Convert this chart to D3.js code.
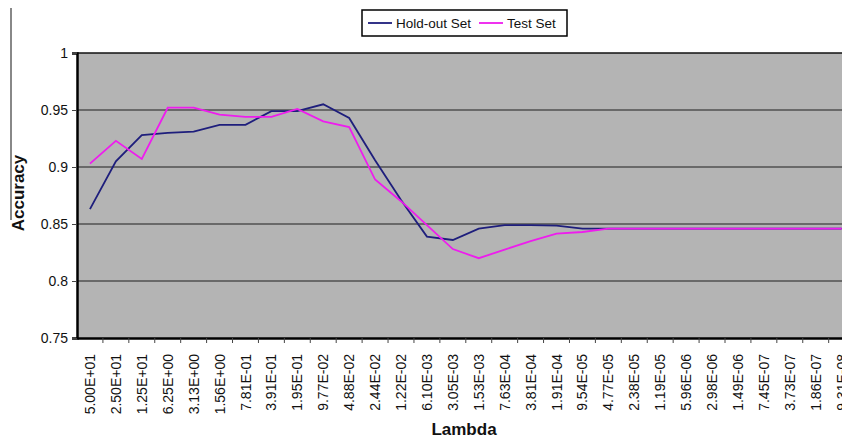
<!DOCTYPE html>
<html>
<head>
<meta charset="utf-8">
<script src="https://cdn.jsdelivr.net/npm/d3@7"></script>
<style>
  html, body { margin: 0; padding: 0; background: #fff; }
  svg { display: block; font-family: Arial, "Liberation Sans", sans-serif; }
</style>
</head>
<body>
<svg id="chart" width="842" height="441"></svg>
<script>
const categories = ["5.00E+01","2.50E+01","1.25E+01","6.25E+00","3.13E+00","1.56E+00","7.81E-01","3.91E-01","1.95E-01","9.77E-02","4.88E-02","2.44E-02","1.22E-02","6.10E-03","3.05E-03","1.53E-03","7.63E-04","3.81E-04","1.91E-04","9.54E-05","4.77E-05","2.38E-05","1.19E-05","5.96E-06","2.98E-06","1.49E-06","7.45E-07","3.73E-07","1.86E-07","9.31E-08"];
const holdout = [0.863,0.905,0.928,0.930,0.931,0.937,0.937,0.949,0.949,0.955,0.943,0.906,0.871,0.839,0.836,0.846,0.849,0.849,0.8485,0.846,0.846,0.846,0.846,0.846,0.846,0.846,0.846,0.846,0.846,0.846];
const testSet = [0.903,0.923,0.907,0.952,0.952,0.946,0.944,0.944,0.951,0.940,0.935,0.889,0.870,0.849,0.828,0.820,0.8275,0.835,0.8415,0.843,0.846,0.846,0.846,0.846,0.846,0.846,0.846,0.846,0.846,0.846];
const yTicks = [0.75,0.8,0.85,0.9,0.95,1];
const seriesNames = ["Hold-out Set","Test Set"];

(function () {
const svg = d3.select("#chart");
const pLeft = 77, pTop = 53, pBottom = 338, bandW = 25.92;
const pRight = pLeft + bandW * categories.length;

const x = d3.scaleBand().domain(categories).range([pLeft, pRight]).padding(0);
const y = d3.scaleLinear().domain([0.75, 1]).range([pBottom, pTop]);

// plot background
svg.append("rect").attr("x", pLeft).attr("y", pTop)
  .attr("width", pRight - pLeft).attr("height", pBottom - pTop)
  .attr("fill", "#b4b4b4");

// gridlines
svg.append("g").selectAll("line").data(yTicks.filter(d => d > 0.75 && d < 1)).join("line")
  .attr("x1", pLeft).attr("x2", pRight)
  .attr("y1", d => y(d)).attr("y2", d => y(d))
  .attr("stroke", "#505050").attr("stroke-width", 1.5);

// top border
svg.append("line").attr("x1", pLeft).attr("x2", pRight).attr("y1", pTop).attr("y2", pTop)
  .attr("stroke", "#111").attr("stroke-width", 1.5);

// y axis
const yAxis = d3.axisLeft(y).tickValues(yTicks).tickSize(5).tickPadding(4)
  .tickFormat(d => d === 1 ? "1" : String(d));
const gy = svg.append("g").attr("transform", `translate(${pLeft},0)`).call(yAxis);
gy.select(".domain").attr("stroke", "#000").attr("stroke-width", 2.5);
gy.selectAll(".tick line").attr("stroke", "#444");
gy.selectAll(".tick text").attr("font-size", 14).attr("fill", "#111")
  .attr("font-family", "Arial, 'Liberation Sans', sans-serif");

// x axis
const xAxis = d3.axisBottom(x).tickSize(0).tickPadding(0);
const gx = svg.append("g").attr("transform", `translate(0,${pBottom})`).call(xAxis);
gx.select(".domain").attr("stroke", "#000").attr("stroke-width", 2.5);
gx.selectAll(".tick text")
  .attr("font-size", 14).attr("fill", "#111")
  .attr("font-family", "Arial, 'Liberation Sans', sans-serif")
  .attr("text-anchor", "end")
  .attr("transform", "translate(0,16) rotate(-90)")
  .attr("x", 0).attr("y", 0).attr("dy", "0.36em");
// tick marks at category boundaries
svg.append("g").selectAll("line").data(categories).join("line")
  .attr("x1", d => x(d) + bandW).attr("x2", d => x(d) + bandW)
  .attr("y1", pBottom).attr("y2", pBottom + 5)
  .attr("stroke", "#444").attr("stroke-width", 1);

// lines
const line = d3.line().x((d, i) => x(categories[i]) + x.bandwidth() / 2).y(d => y(d));
svg.append("path").datum(holdout).attr("d", line)
  .attr("fill", "none").attr("stroke", "#1e1e7c").attr("stroke-width", 1.8);
svg.append("path").datum(testSet).attr("d", line)
  .attr("fill", "none").attr("stroke", "#ee1cee").attr("stroke-width", 1.8);

// axis titles
svg.append("text").attr("transform", "translate(24,193) rotate(-90)")
  .attr("text-anchor", "middle").attr("font-size", 17).attr("font-weight", "bold")
  .attr("fill", "#111").text("Accuracy");
svg.append("text").attr("x", 464).attr("y", 435)
  .attr("text-anchor", "middle").attr("font-size", 17).attr("font-weight", "bold")
  .attr("fill", "#111").text("Lambda");

// decorative vertical rule at left
svg.append("line").attr("x1", 11).attr("x2", 11).attr("y1", 8).attr("y2", 220)
  .attr("stroke", "#888").attr("stroke-width", 2);

// legend
const lg = svg.append("g");
lg.append("rect").attr("x", 362).attr("y", 10).attr("width", 205).attr("height", 26)
  .attr("fill", "#fff").attr("stroke", "#000").attr("stroke-width", 1.5);
const legendItems = [
  {name: seriesNames[0], color: "#1e1e7c", x0: 368},
  {name: seriesNames[1], color: "#ee1cee", x0: 479}
];
legendItems.forEach(it => {
  lg.append("line").attr("x1", it.x0).attr("x2", it.x0 + 24).attr("y1", 23).attr("y2", 23)
    .attr("stroke", it.color).attr("stroke-width", 1.8);
  lg.append("text").attr("x", it.x0 + 28).attr("y", 23).attr("dy", "0.35em")
    .attr("font-size", 13.5).attr("fill", "#111").text(it.name);
});
})();
</script>
</body>
</html>
